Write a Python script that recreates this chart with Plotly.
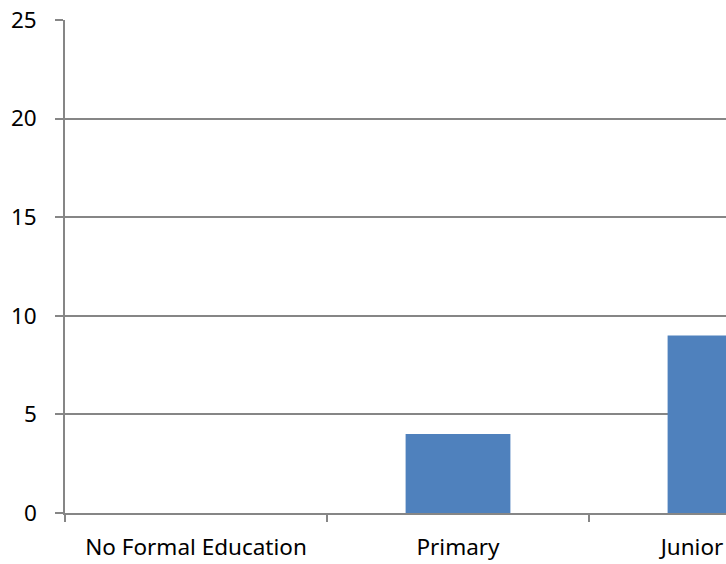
import plotly.graph_objects as go

categories = ["No Formal Education", "Primary", "Junior High"]
values = [0, 4, 9]
y_ticks = [0, 5, 10, 15, 20, 25]

fig = go.Figure(go.Bar(x=categories, y=values, marker=dict(color="#4F81BD", line=dict(width=0)), width=0.4))

font = dict(family="Noto Sans, Open Sans, sans-serif", size=22.5, color="#000000")
fig.update_layout(
    width=726, height=564,
    margin=dict(l=65, r=0, t=20, b=51, autoexpand=False),
    paper_bgcolor="white", plot_bgcolor="white",
    showlegend=False,
    font=font,
)
fig.update_xaxes(
    type="category", range=[-0.5, -0.5 + 661 / 262],
    showline=True, linecolor="#868686", linewidth=1.5,
    ticks="outside", tickson="boundaries", ticklen=7, tickcolor="#868686", tickwidth=1.5,
    showgrid=False, automargin=False, tickfont=font, ticklabelstandoff=13,
    ticklabeloverflow="allow",
)
fig.update_yaxes(
    range=[0, 25], tickvals=y_ticks,
    showline=True, linecolor="#868686", linewidth=1.5,
    ticks="outside", ticklen=8, tickcolor="#868686", tickwidth=1.5,
    showgrid=True, gridcolor="#868686", gridwidth=1.5,
    zeroline=False, automargin=False, tickfont=font, ticklabelstandoff=14,
    ticklabeloverflow="allow",
)
fig.write_html(
    "out.html",
    config={"displayModeBar": False},
    post_script="document.body.style.margin='0';document.body.style.overflow='hidden';",
)
